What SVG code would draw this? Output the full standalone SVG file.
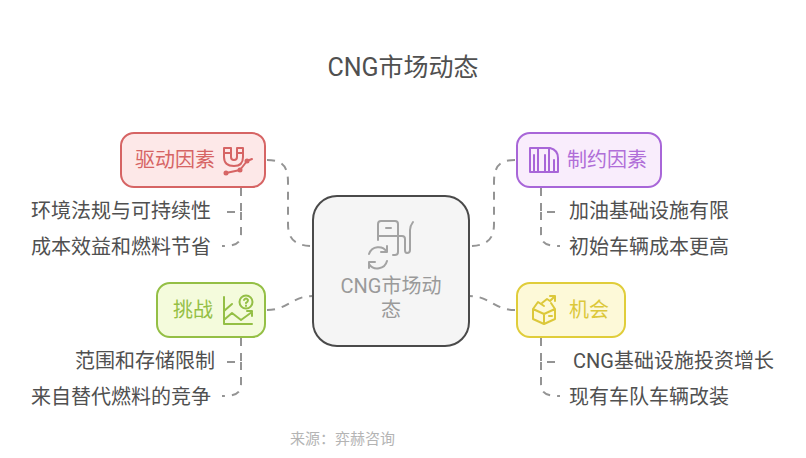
<svg xmlns="http://www.w3.org/2000/svg" width="806" height="458" viewBox="0 0 806 458">
<style>
text{font-family:"Roboto","Noto Sans CJK SC",sans-serif}
.leaf{font-size:20px;fill:#505050}
.lab{font-size:20px}
.c{fill:none;stroke:#949494;stroke-width:2;stroke-dasharray:8 7}
.box{stroke-width:2}
.i{fill:none;stroke-width:2;stroke-linecap:round;stroke-linejoin:round}
</style>
<rect width="806" height="458" fill="#fff"/>
<text x="403" y="76" text-anchor="middle" font-size="25" fill="#505050">CNG市场动态</text>
<g id="connectors">
<path class="c" d="M267 160C282 160 288 166 288 182V224C288 240 296 246 313 246"/>
<path class="c" d="M515 160C500 160 494 166 494 182V224C494 240 486 246 469 246"/>
<path class="c" d="M267 310C288 310 292 296 313 296"/>
<path class="c" d="M515 310C494 310 490 296 469 296"/>
<path class="c" d="M241 188V212H223"/>
<path class="c" d="M241 212V234C241 243 236 246 222 246"/>
<path class="c" d="M541 188V212H559"/>
<path class="c" d="M541 212V234C541 243 546 246 560 246"/>
<path class="c" d="M241 338V362H223"/>
<path class="c" d="M241 362V384C241 393 236 396 222 396"/>
<path class="c" d="M541 338V362H559"/>
<path class="c" d="M541 362V384C541 393 546 396 560 396"/>
</g>
<g id="center">
<rect x="313" y="196" width="156" height="150" rx="24" fill="#f5f5f5" stroke="#4a4a4a" class="box"/>
<g class="i" stroke="#a3a3a3">
<path d="M378 240V224Q378 221 381 221H395Q398 221 398 224V252Q398 255 395 255H393"/>
<path d="M378 236H398M386 228H391"/>
<path d="M398 236H402Q405 236 405 239V250Q405 253 407 253Q410 253 410 250V230Q410 226 413 222"/>
<path d="M369 254A10 10 0 0 1 387 252M387 246V252H381M387 261A10 10 0 0 1 369 264M369 268V262H375"/>
</g>
<text x="391" y="293" text-anchor="middle" font-size="20" fill="#9a9a9a">CNG市场动</text>
<text x="391" y="317" text-anchor="middle" font-size="20" fill="#9a9a9a">态</text>
</g>
<g id="drivers">
<rect x="121" y="133" width="144" height="54" rx="13" fill="#fde8e8" stroke="#d66464" class="box"/>
<text x="135" y="167" class="lab" fill="#d66464">驱动因素</text>
<g class="i" stroke="#d66464">
<path d="M224 148H231V157Q231 160 234 160Q237 160 237 157V148H243V157Q243 166 234 166Q224 166 224 157ZM224 153H231M237 153H243"/>
<path d="M226 173L240 170L247 161L252 159"/>
<circle cx="226" cy="173" r="1.500"/><circle cx="240" cy="170" r="1.500"/><circle cx="247" cy="161" r="1.500"/>
</g>
</g>
<g id="constraints">
<rect x="517" y="133" width="144" height="54" rx="13" fill="#f9edfc" stroke="#a866d8" class="box"/>
<text x="567" y="167" class="lab" fill="#b06ed8">制约因素</text>
<g class="i" stroke="#a866d8">
<path d="M530 148H550Q558 150 558 158V172H530Z"/>
<path d="M538 148V172M549 148V172M534 172V155M545 172V155M554 172V160"/>
</g>
</g>
<g id="challenges">
<rect x="157" y="283" width="108" height="54" rx="13" fill="#f4fbdc" stroke="#94bf45" class="box"/>
<text x="173" y="317" class="lab" fill="#94bf45">挑战</text>
<g class="i" stroke="#94bf45">
<path d="M224 297V324H252"/>
<path d="M224 311L232 304M225 319L232 313L241 320L252 312M247 311H252V316"/>
<circle cx="246" cy="302" r="6.500"/>
<path d="M244 300Q246 297 248 300Q248 302 246 303M246 305.500V306"/>
</g>
</g>
<g id="opportunities">
<rect x="517" y="283" width="108" height="54" rx="13" fill="#fdf9d8" stroke="#e0cd3a" class="box"/>
<text x="569" y="317" class="lab" fill="#dcc83a">机会</text>
<g class="i" stroke="#dcc83a">
<path d="M533 309V319L544 324L555 319V309L544 314ZM544 314V324M533 309L538 302L544 306M555 309L551 303"/>
<path d="M542 303L547 299L550 301L554 297M550 296H555V301M549 316H552"/>
</g>
</g>
<g id="leaf1"><text x="31" y="218" class="leaf">环境法规与可持续性</text></g>
<g id="leaf2"><text x="31" y="254" class="leaf">成本效益和燃料节省</text></g>
<g id="leaf3"><text x="569" y="218" class="leaf">加油基础设施有限</text></g>
<g id="leaf4"><text x="569" y="254" class="leaf">初始车辆成本更高</text></g>
<g id="leaf5"><text x="75" y="368" class="leaf">范围和存储限制</text></g>
<g id="leaf6"><text x="31" y="404" class="leaf">来自替代燃料的竞争</text></g>
<g id="leaf7"><text x="573" y="368" class="leaf">CNG基础设施投资增长</text></g>
<g id="leaf8"><text x="569" y="404" class="leaf">现有车队车辆改装</text></g>
<text x="290" y="444" font-size="15" fill="#b4b4b4">来源：弈赫咨询</text>
</svg>
